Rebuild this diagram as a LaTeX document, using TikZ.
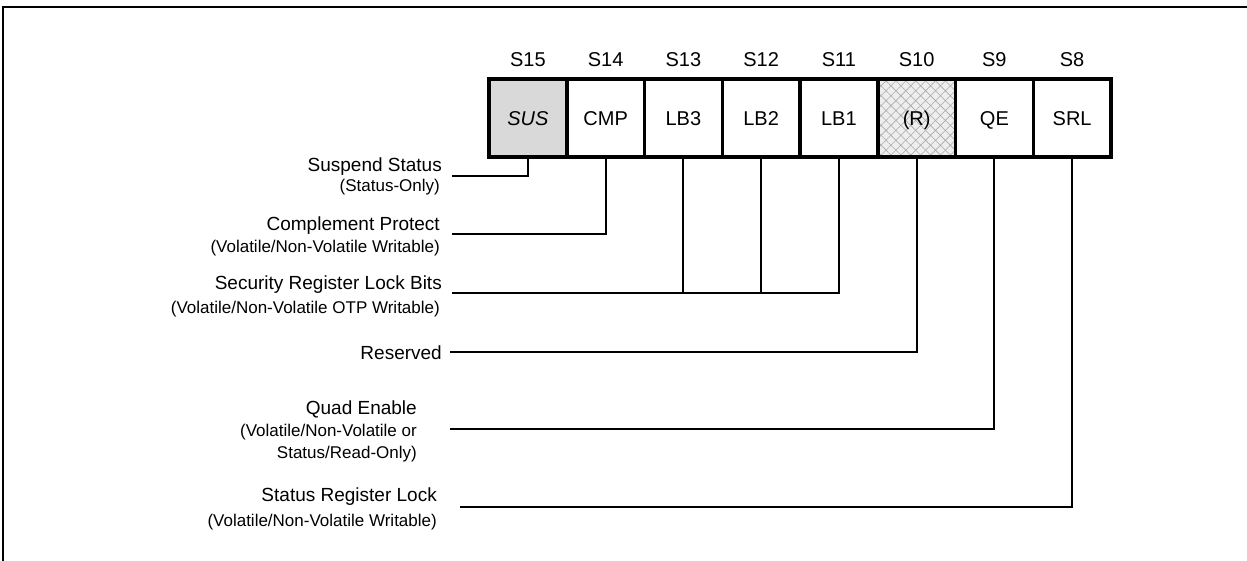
\documentclass[tikz,border=0pt]{standalone}
\usepackage{fontspec}
\setmainfont{Liberation Sans}
\usetikzlibrary{patterns.meta}
\definecolor{susfill}{HTML}{D9D9D9}
\definecolor{rbg}{HTML}{EEEEEE}
\definecolor{hatchc}{HTML}{AAAAAA}
\begin{document}
\begin{tikzpicture}[x=1pt,y=-1pt,
  cell/.style={draw, line width=3.5pt, minimum width=77.75pt, minimum height=78pt,
    inner sep=0pt, outer sep=0pt, text height=14.3pt, text depth=0pt,
    font=\fontsize{20}{24}\selectfont},
  idx/.style={anchor=base, inner sep=0pt, font=\fontsize{20}{24}\selectfont},
  mainlbl/.style={anchor=base east, inner sep=0pt, font=\fontsize{19}{22}\selectfont},
  sublbl/.style={anchor=base east, inner sep=0pt, font=\fontsize{17}{22}\selectfont},
  conn/.style={line width=2pt},
  frameline/.style={line width=2.2pt}]
\useasboundingbox (0,0) rectangle (1247,561);
\clip (0,0) rectangle (1247,561);
% outer frame (only top and left edges visible)
\draw[frameline] (2.8,700) -- (2.8,6.7) -- (1400,6.7);

% register cells
\node[cell, fill=susfill] (c15) at (527.875,118) {\textit{SUS}};
\node[cell] (c14) at (605.625,118) {CMP};
\node[cell] (c13) at (683.375,118) {LB3};
\node[cell] (c12) at (761.125,118) {LB2};
\node[cell] (c11) at (838.875,118) {LB1};
\node[cell, preaction={fill=rbg}, pattern={Hatch[angle=45,distance=7pt,line width=0.6pt]}, pattern color=hatchc] (c10) at (916.625,118) {(R)};
\node[cell] (c9) at (994.375,118) {QE};
\node[cell] (c8) at (1072.125,118) {SRL};
\draw[line width=4pt] (c15.north west) rectangle (c8.south east);

% bit indices
\node[idx] (i15) at (c15.center |- 0,67) {S15};
\node[idx] (i14) at (c14.center |- 0,67) {S14};
\node[idx] (i13) at (c13.center |- 0,67) {S13};
\node[idx] (i12) at (c12.center |- 0,67) {S12};
\node[idx] (i11) at (c11.center |- 0,67) {S11};
\node[idx] (i10) at (c10.center |- 0,67) {S10};
\node[idx] (i9) at (c9.center |- 0,67) {S9};
\node[idx] (i8) at (c8.center |- 0,67) {S8};

% labels
\node[mainlbl] (n15) at (442,172) {Suspend Status};
\node[sublbl] (s15) at (440,192) {(Status-Only)};
\node[mainlbl] (n14) at (440,231) {Complement Protect};
\node[sublbl] (s14) at (440,253) {(Volatile/Non-Volatile Writable)};
\node[mainlbl] (n13) at (442,290) {Security Register Lock Bits};
\node[sublbl] (s13) at (440,313) {(Volatile/Non-Volatile OTP Writable)};
\node[mainlbl] (n10) at (442,359) {Reserved};
\node[mainlbl] (n9) at (417,414) {Quad Enable};
\node[sublbl] (s9a) at (417,436) {(Volatile/Non-Volatile or};
\node[sublbl] (s9b) at (417,458) {Status/Read-Only)};
\node[mainlbl] (n8) at (437,501) {Status Register Lock};
\node[sublbl] (s8) at (437,526) {(Volatile/Non-Volatile Writable)};

% connector ends
\coordinate (e15) at (452,176);
\coordinate (e14) at (452,234);
\coordinate (e13) at (452,293);
\coordinate (e10) at (450,352);
\coordinate (e9) at (450,429);
\coordinate (e8) at (460,507);

% connectors
\draw[conn] (e15) -| (c15.south);
\draw[conn] (e14) -| (c14.south);
\draw[conn] (e13) -| (c11.south);
\draw[conn] (c13.south) -- (c13.south |- e13);
\draw[conn] (c12.south) -- (c12.south |- e13);
\draw[conn] (e10) -| (c10.south);
\draw[conn] (e9) -| (c9.south);
\draw[conn] (e8) -| (c8.south);
\end{tikzpicture}
\end{document}
